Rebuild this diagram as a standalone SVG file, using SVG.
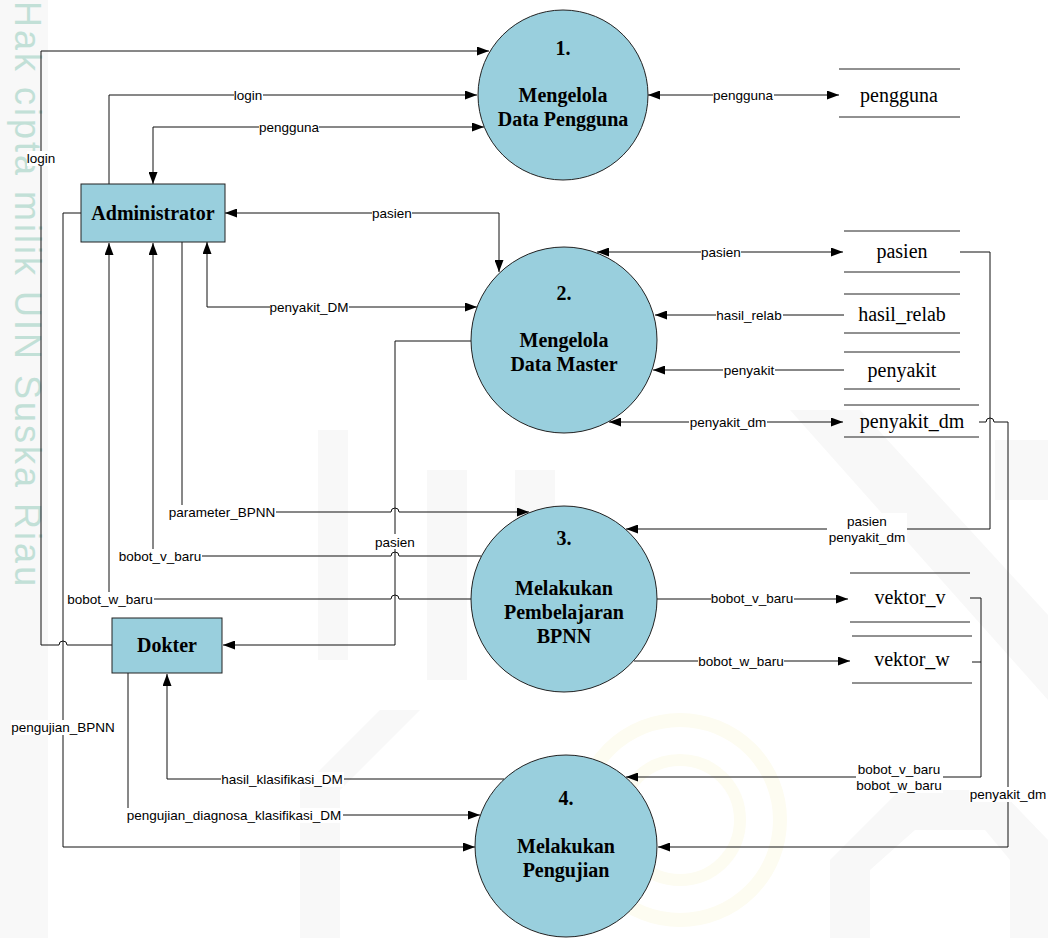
<svg xmlns="http://www.w3.org/2000/svg" width="1048" height="938" viewBox="0 0 1048 938">
  <defs>
    <marker id="arrow" viewBox="0 0 12 9" refX="12" refY="4.5" markerWidth="12" markerHeight="9" markerUnits="userSpaceOnUse" orient="auto-start-reverse">
      <path d="M0,0 L12,4.5 L0,9 z" fill="#000"/>
    </marker>
    <style>
      .proc { fill: #99cfdd; stroke: #222; stroke-width: 1; }
      .ent { fill: #99cfdd; stroke: #222; stroke-width: 1; }
      .ptext { font-family: "Liberation Serif", "Times New Roman", serif; font-weight: bold; font-size: 20px; fill: #000; text-anchor: middle; }
      .stext { font-family: "Liberation Serif", "Times New Roman", serif; font-size: 20px; fill: #000; text-anchor: middle; }
      .store { stroke: #222; stroke-width: 1; fill: none; }
      .flow { fill: none; stroke: #111; stroke-width: 1; }
      .both { marker-start: url(#arrow); marker-end: url(#arrow); }
      .end { marker-end: url(#arrow); }
      .lbl { font-family: "Liberation Sans", Arial, sans-serif; font-size: 13.5px; fill: #000; text-anchor: middle; }
      .lbg { fill: #fff; }
      .wm { fill: #f8f8f8; }
    </style>
  </defs>

  <rect width="1048" height="938" fill="#fff"/>

  <!-- background watermark -->
  <g id="watermark">
    <rect x="0" y="0" width="48" height="938" fill="#f8f8f8"/>
    <text transform="translate(15,1) rotate(90)" x="0" y="0" font-family="Liberation Sans, Arial, sans-serif" font-size="36" letter-spacing="3" fill="#c2e0d7">Hak cipta milik UIN Suska Riau</text>
    <rect class="wm" x="318" y="430" width="30" height="230"/>
    <rect class="wm" x="427" y="470" width="40" height="210"/>
    <rect class="wm" x="515" y="470" width="40" height="100"/>
    <polygon class="wm" points="790,410 860,410 1048,615 1048,700"/>
    <polygon class="wm" points="995,440 1048,440 1048,500 995,500"/>
    <polygon class="wm" points="300,790 380,710 420,710 340,790 340,938 300,938"/>
    <polygon class="wm" points="830,938 830,860 900,790 1000,790 1048,840 1048,938 1010,938 1010,860 985,830 915,830 870,870 870,938"/>
    <circle cx="680" cy="820" r="100" fill="none" stroke="#fdfcf1" stroke-width="14"/>
    <circle cx="680" cy="820" r="60" fill="none" stroke="#fdfcf1" stroke-width="12"/>
  </g>

  <!-- data flows -->
  <g id="connectors">
    <!-- Dokter: login -->
    <path class="flow end" d="M112,645 H67 A4,4 0 0 0 59,645 H41 V51 H489"/>
    <!-- Administrator: login -->
    <path class="flow end" d="M109,184 V95 H477"/>
    <!-- pengguna between Administrator and process 1 -->
    <path class="flow both" d="M153,184 V127 H484"/>
    <!-- pasien between Administrator and process 2 -->
    <path class="flow both" d="M225,213 H499 V272"/>
    <!-- penyakit_DM -->
    <path class="flow both" d="M207,242 V307 H477"/>
    <!-- pasien to Dokter -->
    <path class="flow end" d="M471,341 H395 V645 H223"/>
    <!-- parameter_BPNN -->
    <path class="flow end" d="M182,242 V512 H391 A4,4 0 0 1 399,512 H529"/>
    <!-- bobot_v_baru back to Administrator -->
    <path class="flow end" d="M481,556 H399 A4,4 0 0 0 391,556 H153 V243"/>
    <!-- bobot_w_baru back to Administrator -->
    <path class="flow end" d="M471,599 H399 A4,4 0 0 0 391,599 H109 V243"/>
    <!-- pengujian_BPNN -->
    <path class="flow end" d="M81,213 H63 V847 H475"/>
    <!-- pengujian_diagnosa_klasifikasi_DM -->
    <path class="flow end" d="M128,673 V815 H480"/>
    <!-- hasil_klasifikasi_DM -->
    <path class="flow end" d="M504,779 H167 V674"/>
    <!-- process 1 and pengguna store -->
    <path class="flow both" stroke-width="2" d="M648,95 H839"/>
    <!-- process 2 and stores -->
    <path class="flow both" d="M597,252 H843"/>
    <path class="flow end" d="M844,315 H655"/>
    <path class="flow end" d="M844,370 H653"/>
    <path class="flow both" d="M609,422 H843"/>
    <!-- pasien + penyakit_dm into process 3 -->
    <path class="flow end" d="M960,252 H990 V529 H626"/>
    <!-- penyakit_dm into process 4 -->
    <path class="flow end" d="M979,422 H986 A4,4 0 0 1 994,422 H1008 V847 H658"/>
    <!-- process 3 to weight vector stores -->
    <path class="flow end" d="M657,599 H848"/>
    <path class="flow end" d="M634,661 H850"/>
    <!-- weight vectors into process 4 -->
    <path class="flow end" d="M970,598 H981 V777 H626"/>
    <path class="flow" stroke-width="2" d="M972,662 H981"/>

    <!-- flow labels -->
    <g id="labels">
      <rect class="lbg" x="27" y="151" width="28" height="15"/>
      <text class="lbl" x="41" y="163">login</text>
      <rect class="lbg" x="234" y="88" width="29" height="15"/>
      <text class="lbl" x="248" y="100">login</text>
      <rect class="lbg" x="259" y="120" width="60" height="15"/>
      <text class="lbl" x="289" y="132">pengguna</text>
      <rect class="lbg" x="372" y="206" width="40" height="15"/>
      <text class="lbl" x="392" y="218">pasien</text>
      <rect class="lbg" x="270" y="300" width="79" height="15"/>
      <text class="lbl" x="309" y="312">penyakit_DM</text>
      <rect class="lbg" x="375" y="534" width="40" height="15"/>
      <text class="lbl" x="395" y="547">pasien</text>
      <rect class="lbg" x="169" y="505" width="107" height="15"/>
      <text class="lbl" x="222" y="517">parameter_BPNN</text>
      <rect class="lbg" x="118" y="549" width="84" height="15"/>
      <text class="lbl" x="160" y="561">bobot_v_baru</text>
      <rect class="lbg" x="67" y="592" width="87" height="15"/>
      <text class="lbl" x="110" y="604">bobot_w_baru</text>
      <rect class="lbg" x="11" y="720" width="105" height="15"/>
      <text class="lbl" x="63" y="732">pengujian_BPNN</text>
      <rect class="lbg" x="125" y="808" width="218" height="15"/>
      <text class="lbl" x="234" y="820">pengujian_diagnosa_klasifikasi_DM</text>
      <rect class="lbg" x="221" y="772" width="123" height="15"/>
      <text class="lbl" x="282" y="784">hasil_klasifikasi_DM</text>
      <rect class="lbg" x="713" y="88" width="61" height="15"/>
      <text class="lbl" x="743" y="100">pengguna</text>
      <rect class="lbg" x="701" y="245" width="40" height="15"/>
      <text class="lbl" x="721" y="257">pasien</text>
      <rect class="lbg" x="716" y="308" width="67" height="15"/>
      <text class="lbl" x="749" y="320">hasil_relab</text>
      <rect class="lbg" x="723" y="363" width="52" height="15"/>
      <text class="lbl" x="749" y="375">penyakit</text>
      <rect class="lbg" x="689" y="415" width="78" height="15"/>
      <text class="lbl" x="728" y="427">penyakit_dm</text>
      <rect class="lbg" x="827" y="513" width="80" height="32"/>
      <text class="lbl" x="867" y="526">pasien</text>
      <text class="lbl" x="867" y="542">penyakit_dm</text>
      <rect class="lbg" x="711" y="591" width="83" height="15"/>
      <text class="lbl" x="752" y="603">bobot_v_baru</text>
      <rect class="lbg" x="698" y="654" width="86" height="15"/>
      <text class="lbl" x="741" y="666">bobot_w_baru</text>
      <rect class="lbg" x="856" y="761" width="87" height="32"/>
      <text class="lbl" x="899" y="774">bobot_v_baru</text>
      <text class="lbl" x="899" y="790">bobot_w_baru</text>
      <rect class="lbg" x="969" y="787" width="79" height="15"/>
      <text class="lbl" x="1008" y="799">penyakit_dm</text>
    </g>
  </g>

  <!-- external entities -->
  <g id="administrator">
    <rect class="ent" x="81" y="184" width="144" height="58"/>
    <text class="ptext" x="153" y="220">Administrator</text>
  </g>
  <g id="dokter">
    <rect class="ent" x="112" y="618" width="110" height="55"/>
    <text class="ptext" x="167" y="652">Dokter</text>
  </g>

  <!-- processes -->
  <g id="proses-1">
    <circle class="proc" cx="563" cy="95" r="85"/>
    <text class="ptext" x="563" y="55">1.</text>
    <text class="ptext" x="563" y="102">Mengelola</text>
    <text class="ptext" x="563" y="126">Data Pengguna</text>
  </g>
  <g id="proses-2">
    <circle class="proc" cx="564" cy="340" r="93"/>
    <text class="ptext" x="564" y="300">2.</text>
    <text class="ptext" x="564" y="347">Mengelola</text>
    <text class="ptext" x="564" y="371">Data Master</text>
  </g>
  <g id="proses-3">
    <circle class="proc" cx="564" cy="599" r="93"/>
    <text class="ptext" x="564" y="545">3.</text>
    <text class="ptext" x="564" y="595">Melakukan</text>
    <text class="ptext" x="564" y="619">Pembelajaran</text>
    <text class="ptext" x="564" y="643">BPNN</text>
  </g>
  <g id="proses-4">
    <circle class="proc" cx="566" cy="846" r="91"/>
    <text class="ptext" x="566" y="805">4.</text>
    <text class="ptext" x="566" y="853">Melakukan</text>
    <text class="ptext" x="566" y="877">Pengujian</text>
  </g>

  <!-- data stores -->
  <g id="store-pengguna">
    <path class="store" d="M839,69 H960 M839,117 H960"/>
    <text class="stext" x="899" y="102">pengguna</text>
  </g>
  <g id="store-pasien">
    <path class="store" d="M844,231 H960 M844,272 H960"/>
    <text class="stext" x="902" y="258">pasien</text>
  </g>
  <g id="store-hasil-relab">
    <path class="store" d="M844,294 H960 M844,333 H960"/>
    <text class="stext" x="902" y="321">hasil_relab</text>
  </g>
  <g id="store-penyakit">
    <path class="store" d="M844,352 H960 M844,389 H960"/>
    <text class="stext" x="902" y="377">penyakit</text>
  </g>
  <g id="store-penyakit-dm">
    <path class="store" d="M844,405 H979 M844,437 H979"/>
    <text class="stext" x="912" y="428">penyakit_dm</text>
  </g>
  <g id="store-vektor-v">
    <path class="store" d="M850,573 H970 M850,622 H970"/>
    <text class="stext" x="910" y="604">vektor_v</text>
  </g>
  <g id="store-vektor-w">
    <path class="store" d="M852,636 H972 M852,683 H972"/>
    <text class="stext" x="912" y="666">vektor_w</text>
  </g>
</svg>
